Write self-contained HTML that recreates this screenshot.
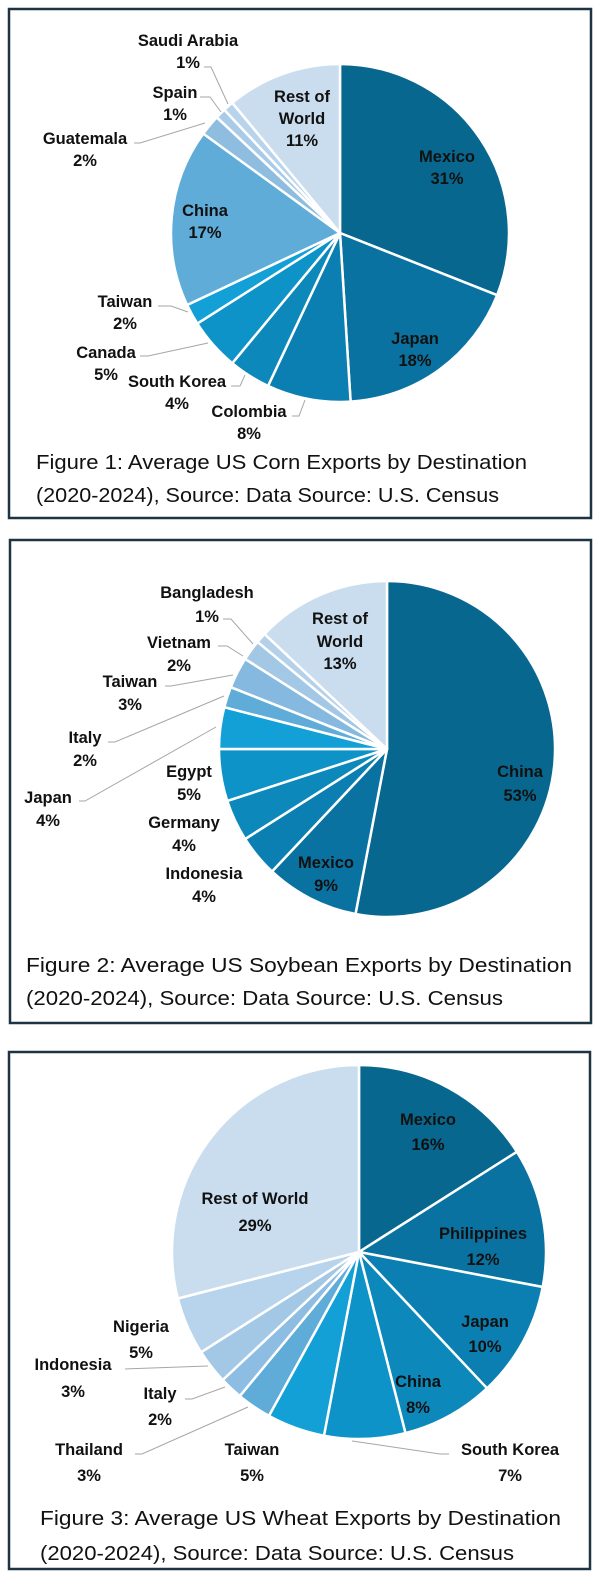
<!DOCTYPE html>
<html><head><meta charset="utf-8"><style>
html,body{margin:0;padding:0;background:#fff;}
svg{display:block;}
.lbl{font-family:"Liberation Sans",sans-serif;font-weight:bold;font-size:16.5px;fill:#111;text-anchor:middle;}
.cap{font-family:"Liberation Sans",sans-serif;font-size:20px;fill:#111;}
.lead{fill:none;stroke:#a6a6a6;stroke-width:1;}
</style></head><body>
<svg id="s" width="600" height="1577" viewBox="0 0 600 1577">
<rect x="9" y="9" width="582" height="509" fill="#fff" stroke="#1e3442" stroke-width="2.5"/>
<rect x="10" y="540" width="581" height="483" fill="#fff" stroke="#1e3442" stroke-width="2.5"/>
<rect x="9" y="1052" width="581" height="517" fill="#fff" stroke="#1e3442" stroke-width="2.5"/>
<g id="corn"></g>
<g id="soy"></g>
<g id="wheat"></g>
<text class="cap" x="36" y="469" textLength="491" lengthAdjust="spacingAndGlyphs">Figure 1: Average US Corn Exports by Destination</text>
<text class="cap" x="36" y="502" textLength="463" lengthAdjust="spacingAndGlyphs">(2020-2024), Source:  Data Source: U.S. Census</text>
<text class="cap" x="26" y="972" textLength="546" lengthAdjust="spacingAndGlyphs">Figure 2: Average US Soybean Exports by Destination</text>
<text class="cap" x="26" y="1005" textLength="477" lengthAdjust="spacingAndGlyphs">(2020-2024), Source:  Data Source: U.S. Census</text>
<text class="cap" x="40" y="1525" textLength="521" lengthAdjust="spacingAndGlyphs">Figure 3: Average US Wheat Exports by Destination</text>
<text class="cap" x="40" y="1560" textLength="474" lengthAdjust="spacingAndGlyphs">(2020-2024), Source:  Data Source: U.S. Census</text>
</svg>
<script>
const cornCats=["Mexico","Japan","Colombia","South Korea","Canada","Taiwan","China","Guatemala","Spain","Saudi Arabia","Rest of World"];
const cornVals=[31,18,8,4,5,2,17,2,1,1,11];
const soyCats=["China","Mexico","Indonesia","Germany","Egypt","Japan","Italy","Taiwan","Vietnam","Bangladesh","Rest of World"];
const soyVals=[53,9,4,4,5,4,2,3,2,1,13];
const wheatCats=["Mexico","Philippines","Japan","China","South Korea","Taiwan","Thailand","Italy","Indonesia","Nigeria","Rest of World"];
const wheatVals=[16,12,10,8,7,5,3,2,3,5,29];

const NS="http://www.w3.org/2000/svg";
function mk(tag,attrs,parent){const e=document.createElementNS(NS,tag);for(const k in attrs)e.setAttribute(k,attrs[k]);parent.appendChild(e);return e;}
const colsA=["#08678f","#0a72a1","#0b7fb1","#0c88bb","#0e93c8","#12a0d6","#5facd8","#8dbde2","#a3c8e6","#b8d3ec","#c9ddee"];
const cornCols=["#08678f","#0a72a1","#0b7fb1","#0c88bb","#0e93c8","#12a0d6","#5facd8","#8ebde0","#a9cbe8","#b8d3ec","#c9ddee"];
const soyCols=["#08678f","#0a72a1","#0b7fb1","#0c88bb","#0e93c8","#12a0d6","#5facd8","#86b9e0","#a3c8e6","#b5d1ea","#c9ddee"];

function pie(gid,cats,vals,cols,cx,cy,r){
  const g=document.getElementById(gid);
  const tot=vals.reduce((a,b)=>a+b,0);
  let a0=0;
  vals.forEach((v,i)=>{
    const a1=a0+v/tot*2*Math.PI;
    const x0=cx+r*Math.sin(a0),y0=cy-r*Math.cos(a0),x1=cx+r*Math.sin(a1),y1=cy-r*Math.cos(a1);
    const large=(a1-a0)>Math.PI?1:0;
    const p=mk("path",{d:`M${cx},${cy}L${x0.toFixed(2)},${y0.toFixed(2)}A${r},${r} 0 ${large} 1 ${x1.toFixed(2)},${y1.toFixed(2)}Z`,fill:cols[i],stroke:"#fff","stroke-width":"2.5","stroke-linejoin":"round"},g);
    
    
    a0=a1;
  });
}
pie("corn",cornCats,cornVals,cornCols,340,233,169);
pie("soy",soyCats,soyVals,soyCols,387,749,168);
pie("wheat",wheatCats,wheatVals,colsA,359,1252,187);

const svg=document.getElementById('s');
function label(lines,x,ys,name){
  lines.forEach((t,i)=>{
    const e=mk("text",{class:"lbl",x:x,y:ys[i]+6},svg);
    e.textContent=t;
    
    
  });
}
function lead(pts,name){
  const e=mk("polyline",{class:"lead",points:pts},svg);
  
  
}
function pct(v){return v+"%";}
label(["Saudi Arabia",pct(cornVals[9])],188,[40,62],"corn-saudi-arabia");
label(["Spain",pct(cornVals[8])],175,[92,114],"corn-spain");
label(["Guatemala",pct(cornVals[7])],85,[138,160],"corn-guatemala");
label(["Rest of","World",pct(cornVals[10])],302,[96,118,140],"corn-rest-of-world");
label(["Mexico",pct(cornVals[0])],447,[156,178],"corn-mexico");
label(["China",pct(cornVals[6])],205,[210,232],"corn-china");
label(["Taiwan",pct(cornVals[5])],125,[301,323],"corn-taiwan");
label(["Canada",pct(cornVals[4])],106,[352,374],"corn-canada");
label(["South Korea",pct(cornVals[3])],177,[381,403],"corn-south-korea");
label(["Colombia",pct(cornVals[2])],249,[411,433],"corn-colombia");
label(["Japan",pct(cornVals[1])],415,[338,360],"corn-japan");
lead("204,67 211,67 228,104","corn-saudi-arabia");
lead("200,97 210,97 221,112","corn-spain");
lead("134,143 140,143 205,123","corn-guatemala");
lead("158,306 171,306 188,312","corn-taiwan");
lead("140,356 148,356 208,343","corn-canada");
lead("231,386 240,386 245,375","corn-south-korea");
lead("292,416 299,416 305,400","corn-colombia");
label(["Bangladesh",pct(soyVals[9])],207,[592,616],"soy-bangladesh");
label(["Rest of","World",pct(soyVals[10])],340,[618,641,663],"soy-rest-of-world");
label(["Vietnam",pct(soyVals[8])],179,[642,665],"soy-vietnam");
label(["Taiwan",pct(soyVals[7])],130,[681,704],"soy-taiwan");
label(["Italy",pct(soyVals[6])],85,[737,760],"soy-italy");
label(["Japan",pct(soyVals[5])],48,[797,820],"soy-japan");
label(["Egypt",pct(soyVals[4])],189,[771,794],"soy-egypt");
label(["Germany",pct(soyVals[3])],184,[822,845],"soy-germany");
label(["Indonesia",pct(soyVals[2])],204,[873,896],"soy-indonesia");
label(["Mexico",pct(soyVals[1])],326,[862,885],"soy-mexico");
label(["China",pct(soyVals[0])],520,[771,795],"soy-china");
lead("223,619 231,619 253,644","soy-bangladesh");
lead("218,646 227,646 243,656","soy-vietnam");
lead("165,686 171,686 233,675","soy-taiwan");
lead("108,742 115,742 224,696","soy-italy");
lead("79,801 85,801 216,727","soy-japan");
label(["Mexico",pct(wheatVals[0])],428,[1119,1144],"wheat-mexico");
label(["Philippines",pct(wheatVals[1])],483,[1233,1259],"wheat-philippines");
label(["Japan",pct(wheatVals[2])],485,[1321,1346],"wheat-japan");
label(["China",pct(wheatVals[3])],418,[1381,1407],"wheat-china");
label(["Rest of World",pct(wheatVals[10])],255,[1198,1225],"wheat-rest-of-world");
label(["Nigeria",pct(wheatVals[9])],141,[1326,1352],"wheat-nigeria");
label(["Indonesia",pct(wheatVals[8])],73,[1364,1391],"wheat-indonesia");
label(["Italy",pct(wheatVals[7])],160,[1393,1419],"wheat-italy");
label(["Thailand",pct(wheatVals[6])],89,[1449,1475],"wheat-thailand");
label(["Taiwan",pct(wheatVals[5])],252,[1449,1475],"wheat-taiwan");
label(["South Korea",pct(wheatVals[4])],510,[1449,1475],"wheat-south-korea");
lead("125,1369 208,1366","wheat-indonesia");
lead("185,1399 192,1399 225,1387","wheat-italy");
lead("135,1454 142,1454 248,1407","wheat-thailand");
lead("449,1454 440,1454 352,1441","wheat-south-korea");
</script>
</body></html>
